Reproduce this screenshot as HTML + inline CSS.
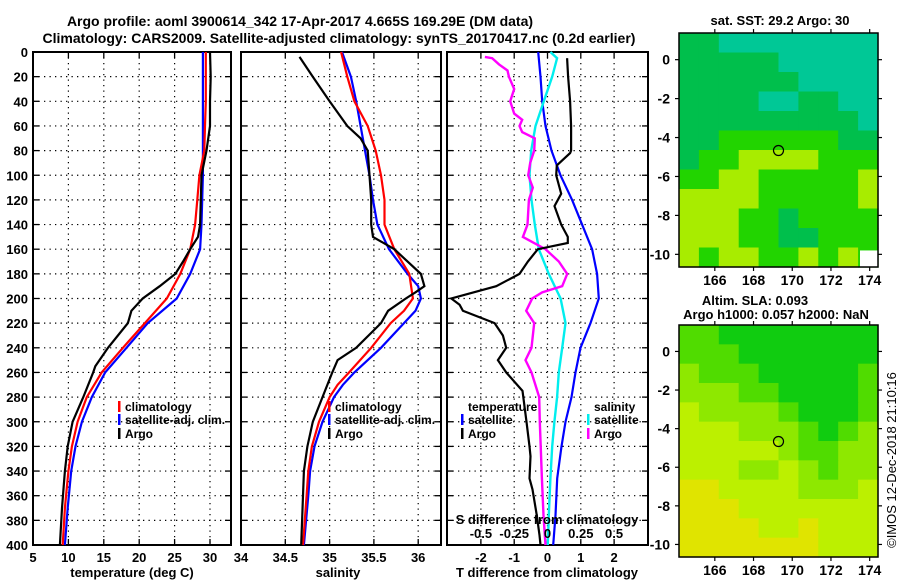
<!DOCTYPE html>
<html><head><meta charset="utf-8"><style>
html,body{margin:0;padding:0;background:#fff;}
svg{display:block;font-family:"Liberation Sans",Arial,sans-serif;font-weight:bold;}
</style></head><body>
<svg id="fig" width="900" height="580" viewBox="0 0 900 580" xmlns="http://www.w3.org/2000/svg">
<text x="300" y="26" font-size="14" text-anchor="middle">Argo profile: aoml 3900614_342 17-Apr-2017 4.665S 169.29E (DM data)</text>
<text x="339" y="43" font-size="14" text-anchor="middle">Climatology: CARS2009. Satellite-adjusted climatology: synTS_20170417.nc (0.2d earlier)</text>
<g id="layer"></g>
</svg>
<script>
// ---- profile data (depth in dbar) ----
const tArgoD = [0,20,40,60,80,100,120,140,150,160,170,180,190,200,210,220,240,255,260,280,300,320,340,370,400];
const tArgo  = [30.0,30.1,30.0,30.0,29.5,28.8,28.7,28.6,28.3,27.2,26.2,25.1,22.9,20.5,18.9,18.4,15.6,13.8,13.5,12.1,10.6,9.9,9.5,9.1,8.8];
const tClimD = [0,20,40,60,80,100,120,140,160,180,200,220,240,260,280,300,320,340,370,400];
const tClim  = [29.4,29.4,29.4,29.3,29.2,28.5,28.2,27.9,27.2,25.8,23.9,20.8,17.7,14.7,12.6,11.3,10.5,10.0,9.5,9.2];
const tSat   = [29.0,29.0,29.0,29.0,29.0,29.0,28.9,28.8,28.6,27.2,25.3,21.2,18.2,15.2,13.3,11.9,11.0,10.4,9.9,9.5];

const sArgoD = [4,20,40,60,70,80,100,120,140,150,160,180,190,195,200,210,220,240,250,260,280,300,320,340,360,400];
const sArgo  = [34.66,34.81,35.0,35.2,35.35,35.43,35.45,35.47,35.47,35.49,35.73,36.03,36.07,35.97,35.86,35.66,35.58,35.30,35.09,35.03,34.92,34.81,34.75,34.71,34.70,34.68];
const sClimD = [0,20,40,60,80,100,120,140,160,180,190,200,210,220,240,260,270,280,300,320,340,360,400];
const sClim  = [35.13,35.20,35.28,35.43,35.52,35.58,35.62,35.62,35.73,35.90,35.92,35.94,35.84,35.69,35.47,35.22,35.09,35.0,34.88,34.80,34.76,34.74,34.70];
const sSat   = [35.14,35.24,35.30,35.35,35.40,35.45,35.49,35.54,35.67,35.88,36.0,36.03,35.97,35.84,35.58,35.28,35.15,35.05,34.92,34.83,34.78,34.76,34.71];

const dTArgoD = [5,20,40,60,80,82,92,100,115,125,140,150,155,160,170,180,190,200,205,210,220,230,240,250,260,275,300,320,328,346,355,376,392,400];
const dTArgo  = [0.59,0.62,0.68,0.71,0.71,0.68,0.28,0.26,0.41,0.21,0.41,0.61,0.61,-0.29,-0.59,-0.84,-1.54,-2.89,-2.64,-2.54,-1.59,-1.34,-1.24,-1.49,-1.24,-0.75,-0.63,-0.54,-0.51,-0.54,-0.45,-0.32,-0.24,-0.21];
const dTSatD = [0,20,40,60,80,100,120,140,160,180,200,220,240,260,280,300,320,346,376,400];
const dTSat  = [-0.28,-0.21,-0.16,-0.06,0.12,0.39,0.74,1.04,1.34,1.49,1.54,1.29,0.99,0.84,0.72,0.54,0.42,0.29,0.24,0.17];
const dSSatD = [0,5,20,40,60,80,100,120,140,160,180,200,220,240,260,280,300,320,346,376,400];
const dSSat  = [0.022,0.072,0.035,-0.028,-0.09,-0.122,-0.135,-0.12,-0.095,-0.065,0.01,0.098,0.135,0.11,0.085,0.072,0.052,0.035,0.022,0.01,0.002];
const dSArgoD = [4,5,10,15,20,30,40,50,55,60,65,70,80,90,100,110,120,140,150,160,170,180,190,195,200,210,220,240,250,260,280,300,346,376,400];
const dSArgo  = [-0.47,-0.415,-0.365,-0.30,-0.29,-0.25,-0.28,-0.25,-0.19,-0.21,-0.19,-0.095,-0.10,-0.13,-0.145,-0.11,-0.14,-0.15,-0.185,-0.015,0.085,0.148,0.11,-0.04,-0.115,-0.16,-0.10,-0.12,-0.165,-0.12,-0.062,-0.058,-0.042,-0.03,-0.015];

const depthTicks = [0,20,40,60,80,100,120,140,160,180,200,220,240,260,280,300,320,340,360,380,400];
const tTicks = [5,10,15,20,25,30];
const tTickLabels = ["5","10","15","20","25","30"];
const sTicks = [34,34.5,35,35.5,36];
const sTickLabels = ["34","34.5","35","35.5","36"];
const dTTicks = [-2,-1,0,1,2];
const dTTickLabels = ["-2","-1","0","1","2"];
const dSTicks = [-0.5,-0.25,0,0.25,0.5];
const dSTickLabels = ["-0.5","-0.25","0","0.25","0.5"];

// ---- map data (coarse colour classes, rows north->south, cols west->east) ----
const sstGrid = [
 [1,1,0,0,0,0,0,0,0,0],[1,1,1,1,1,0,0,0,0,0],[1,1,1,1,1,1,0,0,0,0],[1,1,1,1,0,0,1,1,0,0],
 [1,1,1,1,1,1,1,1,1,0],[1,1,2,2,2,2,2,2,1,1],[1,2,2,3,3,3,3,2,2,2],[2,2,3,3,2,2,2,2,2,3],
 [3,3,3,3,2,2,2,2,2,3],[3,3,3,2,2,1,2,2,2,2],[3,3,3,2,2,1,1,2,2,2],[3,2,3,3,2,2,3,2,3,2]];
const sstColors = ["#00c896","#00bf4c","#22d400","#a8ec00"];
const slaGrid = [
 [1,1,0,0,0,0,0,0,0,0],[1,1,1,0,0,0,0,0,0,0],[2,1,1,1,0,0,0,0,0,1],[2,2,2,1,1,0,0,0,0,1],
 [3,2,2,2,2,1,0,0,0,1],[3,3,3,2,2,2,1,0,1,2],[3,3,3,3,3,2,1,1,2,2],[3,3,3,2,2,3,2,1,2,2],
 [4,4,3,3,3,3,2,2,2,3],[4,4,4,3,3,3,3,3,3,3],[4,4,4,4,3,3,4,3,3,3],[4,4,4,4,4,4,4,3,3,3]];
const slaColors = ["#10cc10","#50dc00","#8ee800","#bcf000","#e0e400"];
const lonTicks = [166,168,170,172,174];
const latTicks = [0,-2,-4,-6,-8,-10];
const argoLon = 169.29, argoLat = -4.665;

const NS = "http://www.w3.org/2000/svg";
const layer = document.getElementById('layer');
function mk(tag, attrs, parent){ const e=document.createElementNS(NS,tag); for(const k in attrs) e.setAttribute(k,attrs[k]); (parent||layer).appendChild(e); return e; }

const Y0=52, Y1=545;
const yD = d => Y0 + d*(Y1-Y0)/400;
const panels = [
  {x0:33, x1:231, sx: v => 33 + (v-5)*7.08},
  {x0:241, x1:441, sx: v => 241 + (v-34)*88.6},
  {x0:447, x1:648, sx: v => 547.5 + v*33.3}
];
const sxS = v => 547.5 + v*4*33.3;

function frame(p, name){
  const g = mk('g',{});
  
  
  depthTicks.forEach(d=>{
    if(d>0 && d<400){
      const l = mk('line',{x1:p.x0,x2:p.x1,y1:yD(d),y2:yD(d),stroke:'#000','stroke-width':1.2,'stroke-dasharray':'1.3,4.2'},g);
      
      
      mk('line',{x1:p.x0,x2:p.x0+6,y1:yD(d),y2:yD(d),stroke:'#000','stroke-width':1.3},g);
      mk('line',{x1:p.x1-6,x2:p.x1,y1:yD(d),y2:yD(d),stroke:'#000','stroke-width':1.3},g);
    }
  });
  return g;
}
function xgrid(g, xs){
  xs.forEach(x=>{
    mk('line',{x1:x,x2:x,y1:Y0,y2:Y1,stroke:'#000','stroke-width':1.2,'stroke-dasharray':'1.3,4.2'},g);
    mk('line',{x1:x,x2:x,y1:Y1-6,y2:Y1,stroke:'#000','stroke-width':1.3},g);
    mk('line',{x1:x,x2:x,y1:Y0,y2:Y0+6,stroke:'#000','stroke-width':1.3},g);
  });
}
function box(g,p){ mk('rect',{x:p.x0,y:Y0,width:p.x1-p.x0,height:Y1-Y0,fill:'none',stroke:'#000','stroke-width':2},g); }
function series(sx, vals, ds, color, w, name){
  const pts = vals.map((v,i)=> sx(v).toFixed(1)+','+yD(ds[i]).toFixed(1)).join(' ');
  const pl = mk('polyline',{points:pts,fill:'none',stroke:color,'stroke-width':w,'stroke-linejoin':'miter'});
  
  
}
function txt(x,y,s,opts,parent){
  const t = mk('text',Object.assign({x:x,y:y,'font-size':13},opts||{}),parent);
  t.textContent = s; return t;
}

// Panel 1 temperature
const g1 = frame(panels[0],'temperature-panel');
xgrid(g1, tTicks.slice(1).map(panels[0].sx));
series(panels[0].sx, tSat, tClimD, '#0000ff', 2.2, 'temperature-satellite-adj-line');
series(panels[0].sx, tClim, tClimD, '#ff0000', 2.2, 'temperature-climatology-line');
series(panels[0].sx, tArgo, tArgoD, '#000000', 2.2, 'temperature-argo-line');
box(g1,panels[0]);
depthTicks.forEach(d=>{ const t=txt(28,yD(d)+5,String(d),{'text-anchor':'end'});   });
tTicks.forEach((v,i)=>{ const t=txt(panels[0].sx(v),562,tTickLabels[i],{'text-anchor':'middle'});   });
txt(132,577,'temperature (deg C)',{'text-anchor':'middle'});

// Panel 2 salinity
const g2 = frame(panels[1],'salinity-panel');
xgrid(g2, sTicks.slice(1).map(panels[1].sx));
series(panels[1].sx, sSat, sClimD, '#0000ff', 2.2, 'salinity-satellite-adj-line');
series(panels[1].sx, sClim, sClimD, '#ff0000', 2.2, 'salinity-climatology-line');
series(panels[1].sx, sArgo, sArgoD, '#000000', 2.2, 'salinity-argo-line');
box(g2,panels[1]);
sTicks.forEach((v,i)=>{ const t=txt(panels[1].sx(v),562,sTickLabels[i],{'text-anchor':'middle'});   });
txt(338,577,'salinity',{'text-anchor':'middle'});

// Panel 3 differences
const g3 = frame(panels[2],'difference-panel');
xgrid(g3, dTTicks.map(panels[2].sx));
series(panels[2].sx, dTSat, dTSatD, '#0000ff', 2.2, 'temperature-diff-satellite-line');
series(sxS, dSSat, dSSatD, '#00eeee', 2.4, 'salinity-diff-satellite-line');
series(sxS, dSArgo, dSArgoD, '#ff00ff', 2.4, 'salinity-diff-argo-line');
series(panels[2].sx, dTArgo, dTArgoD, '#000000', 2.2, 'temperature-diff-argo-line');
box(g3,panels[2]);
dTTicks.forEach((v,i)=>{ const t=txt(panels[2].sx(v),562,dTTickLabels[i],{'text-anchor':'middle'});   });
dSTicks.forEach((v,i)=>{ const t=txt(sxS(v),538,dSTickLabels[i],{'text-anchor':'middle'});   });
txt(547,524,'S difference from climatology',{'text-anchor':'middle'});
txt(547,577,'T difference from climatology',{'text-anchor':'middle'});

// legends
function legEntry(x,y,color,label,name){
  const g = mk('g',{});
  
  
  if(color) mk('rect',{x:x,y:y-10,width:2.5,height:11,fill:color},g);
  txt(x+7,y,label,{'font-size':12},g);
}
legEntry(118,411,'#ff0000','climatology','legend-temp-climatology');
legEntry(118,424,'#0000ff','satellite-adj. clim.','legend-temp-satellite-adj');
legEntry(118,438,'#000000','Argo','legend-temp-argo');
legEntry(328,411,'#ff0000','climatology','legend-sal-climatology');
legEntry(328,424,'#0000ff','satellite-adj. clim.','legend-sal-satellite-adj');
legEntry(328,438,'#000000','Argo','legend-sal-argo');
legEntry(461,411,null,'temperature','legend-temperature-header');
legEntry(461,424,'#0000ff','satellite','legend-diff-temp-satellite');
legEntry(461,438,'#000000','Argo','legend-diff-temp-argo');
legEntry(587,411,null,'salinity','legend-salinity-header');
legEntry(587,424,'#00eeee','satellite','legend-diff-sal-satellite');
legEntry(587,438,'#ff00ff','Argo','legend-diff-sal-argo');

// ---- maps ----
function drawMap(m, grid, colors, name){
  const g = mk('g',{});
  
  
  const lonX = lon => m.x0 + (lon-164.15)*(m.x1-m.x0)/10.28;
  const latY = lat => m.y0 + (1.37-lat)*(m.y1-m.y0)/12.02;
  const rows = grid.length, cols = grid[0].length;
  const cw = (m.x1-m.x0)/cols, ch = (m.y1-m.y0)/rows;
  grid.forEach((row,r)=>row.forEach((v,c)=>{
    const cell = mk('rect',{x:m.x0+c*cw,y:m.y0+r*ch,width:cw+0.6,height:ch+0.6,fill:colors[v]},g);
    
    
  }));
  if(m.white) mk('rect',{x:lonX(173.5),y:latY(-9.8),width:m.x1-lonX(173.5),height:m.y1-latY(-9.8),fill:'#fff'},g);
  mk('rect',{x:m.x0,y:m.y0,width:m.x1-m.x0,height:m.y1-m.y0,fill:'none',stroke:'#000','stroke-width':1.5},g);
  lonTicks.forEach(l=>{
    const x=lonX(l);
    mk('line',{x1:x,x2:x,y1:m.y0-4,y2:m.y0,stroke:'#000','stroke-width':1.2},g);
    mk('line',{x1:x,x2:x,y1:m.y1,y2:m.y1+4,stroke:'#000','stroke-width':1.2},g);
    const t=txt(x,m.y1+18,String(l),{'text-anchor':'middle','font-size':14},g);
    
  });
  latTicks.forEach(l=>{
    const y=latY(l);
    mk('line',{x1:m.x0-4,x2:m.x0,y1:y,y2:y,stroke:'#000','stroke-width':1.2},g);
    mk('line',{x1:m.x1,x2:m.x1+4,y1:y,y2:y,stroke:'#000','stroke-width':1.2},g);
    const t=txt(m.x0-9,y+5,String(l),{'text-anchor':'end','font-size':14},g);
    
  });
  const c = mk('circle',{cx:lonX(argoLon),cy:latY(argoLat),r:5,fill:'none',stroke:'#000','stroke-width':1.2},g);
  
  
}
drawMap({x0:679,x1:878,y0:33,y1:267,white:true}, sstGrid, sstColors, 'sst-map');
drawMap({x0:679,x1:878,y0:325,y1:557}, slaGrid, slaColors, 'sla-map');
txt(780,25,'sat. SST: 29.2 Argo: 30',{'text-anchor':'middle','font-size':13});
txt(755,305,'Altim. SLA: 0.093',{'text-anchor':'middle','font-size':13});
txt(776,319,'Argo h1000: 0.057 h2000: NaN',{'text-anchor':'middle','font-size':13});
const cp = txt(0,0,'©IMOS 12-Dec-2018 21:10:16',{'text-anchor':'middle','font-size':13,'font-weight':'normal',transform:'translate(896,460) rotate(-90)'});


</script>
</body></html>
